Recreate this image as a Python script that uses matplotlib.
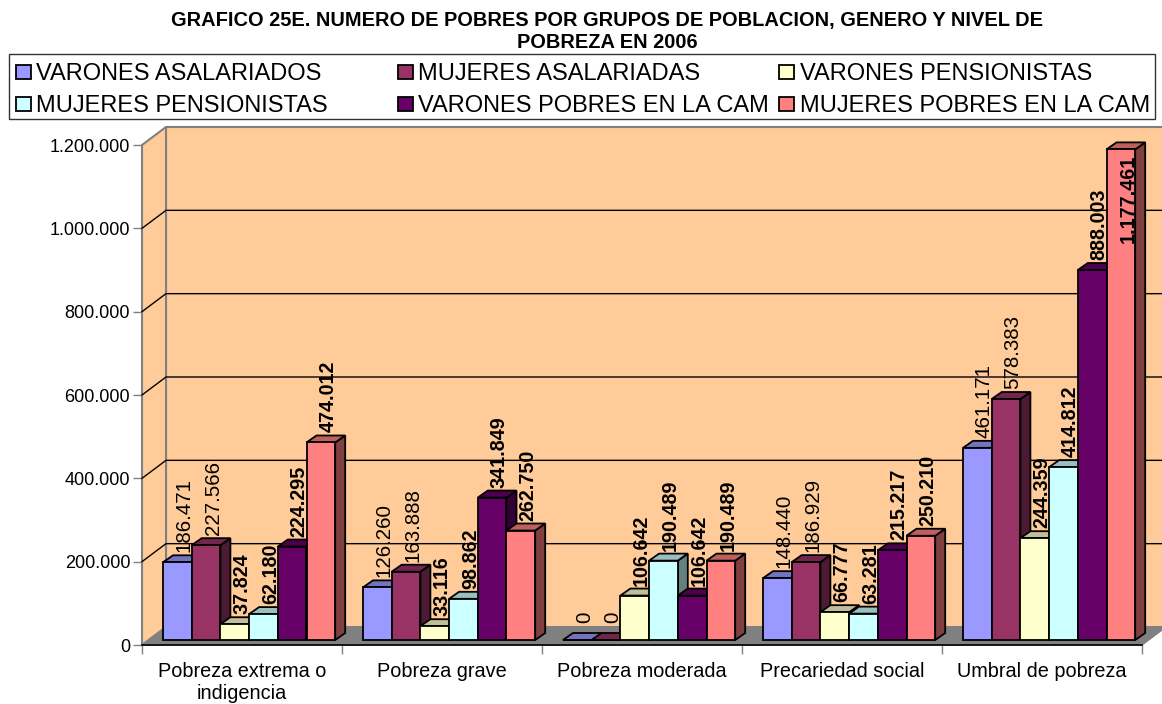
import numpy as np
import matplotlib
matplotlib.use("Agg")
import matplotlib.pyplot as plt
from matplotlib.patches import Polygon, Rectangle
from matplotlib.colors import to_rgb

categories = ["Pobreza extrema o\nindigencia", "Pobreza grave", "Pobreza moderada",
              "Precariedad social", "Umbral de pobreza"]
series_names = ["VARONES ASALARIADOS", "MUJERES ASALARIADAS", "VARONES PENSIONISTAS",
                "MUJERES PENSIONISTAS", "VARONES POBRES EN LA CAM", "MUJERES POBRES EN LA CAM"]
varones_asalariados = [186471, 126260, 0, 148440, 461171]
mujeres_asalariadas = [227566, 163888, 0, 186929, 578383]
varones_pensionistas = [37824, 33116, 106642, 66777, 244359]
mujeres_pensionistas = [62180, 98862, 190489, 63281, 414812]
varones_pobres = [224295, 341849, 106642, 215217, 888003]
mujeres_pobres = [474012, 262750, 190489, 250210, 1177461]
colors = ["#9999FF", "#993366", "#FFFFCC", "#CCFFFF", "#660066", "#FF8080"]
bold_labels = [False, False, True, True, True, True]
y_ticks = [0, 200000, 400000, 600000, 800000, 1000000, 1200000]
y_tick_labels = ["0", "200.000", "400.000", "600.000", "800.000", "1.000.000", "1.200.000"]
title = "GRAFICO 25E. NUMERO DE POBRES POR GRUPOS DE POBLACION, GENERO Y NIVEL DE\nPOBREZA EN 2006"

series = [varones_asalariados, mujeres_asalariadas, varones_pensionistas,
          mujeres_pensionistas, varones_pobres, mujeres_pobres]

plt.rcParams["font.family"] = ["Liberation Sans", "DejaVu Sans"]

W, H = 1162, 704
PX_X = 1 / 200  # one pixel in category units
PX_Y = 2400     # one pixel in value units


def fx(px):
    return px / W


def fy(py):
    return 1 - py / H


def shade(color, factor):
    return tuple(c * factor for c in to_rgb(color))


fig = plt.figure(figsize=(W / 100, H / 100), dpi=100, facecolor="white")
ax = fig.add_axes([fx(142), fy(645), 1000 / W, 500 / H])
ax.set_xlim(0, 5)
ax.set_ylim(0, 1200000)
for s in ax.spines.values():
    s.set_visible(False)
ax.patch.set_visible(False)

# walls and floor of the fake 3d box
wall_dx = 24 * PX_X
wall_dy = 18 * PX_Y
ymax = y_ticks[-1]
ax.add_patch(Polygon([(wall_dx, wall_dy), (5 + wall_dx, wall_dy), (5 + wall_dx, ymax + wall_dy), (wall_dx, ymax + wall_dy)],
                     facecolor="#FFCC99", edgecolor="#808080", lw=1.5, clip_on=False, zorder=1))
ax.add_patch(Polygon([(0, 0), (wall_dx, wall_dy), (wall_dx, ymax + wall_dy), (0, ymax)],
                     facecolor="#FFCC99", edgecolor="#808080", lw=1.5, clip_on=False, zorder=1))
for t in y_ticks[1:-1]:
    ax.plot([0, wall_dx, 5 + wall_dx], [t, t + wall_dy, t + wall_dy], color="black", lw=1, clip_on=False, zorder=2)
ax.add_patch(Polygon([(0, 0), (wall_dx, wall_dy), (5 + wall_dx, wall_dy), (5, 0)],
                     facecolor="#808080", edgecolor="#808080", lw=1, clip_on=False, zorder=3))
ax.plot([0, 5], [0, 0], color="black", lw=1.2, clip_on=False, zorder=3)

# bars
bar_w = 28.7 * PX_X
bar_dx = 10 * PX_X
bar_dy = 7 * PX_Y
base = 5 * PX_Y
z = 4
for i, values in enumerate(series):
    for g, v in enumerate(values):
        x0 = g + 21 * PX_X + i * bar_w
        top = base + v
        ax.add_patch(Polygon([(x0 + bar_w, base), (x0 + bar_w + bar_dx, base + bar_dy),
                              (x0 + bar_w + bar_dx, top + bar_dy), (x0 + bar_w, top)],
                             facecolor=shade(colors[i], 0.5), edgecolor="black", lw=1.3, clip_on=False, zorder=z))
        ax.add_patch(Polygon([(x0, top), (x0 + bar_dx, top + bar_dy),
                              (x0 + bar_w + bar_dx, top + bar_dy), (x0 + bar_w, top)],
                             facecolor=shade(colors[i], 0.75), edgecolor="black", lw=1.3, clip_on=False, zorder=z))
        ax.bar(x0, v, width=bar_w, bottom=base, align="edge", color=colors[i],
               edgecolor="black", lw=1.3, clip_on=False, zorder=z + 1)
        label = f"{v:,}".replace(",", ".")
        bold = bold_labels[i] and v > 0
        weight = "bold" if bold else "normal"
        size = 14.2 if bold else 14.8
        label_x = x0 + (bar_w + bar_dx) / 2 + 2 * PX_X
        if v > 1100000:
            ax.text(label_x, v, label, rotation=90, ha="center", va="top",
                    fontsize=size, fontweight=weight, clip_on=False, zorder=z + 2)
        else:
            gap = 10 if v == 0 else 3
            ax.text(label_x, top + bar_dy + gap * PX_Y, label, rotation=90, ha="center", va="bottom",
                    fontsize=size, fontweight=weight, clip_on=False, zorder=z + 2)
        z += 3

# axis ticks and labels
ax.set_yticks(y_ticks)
ax.set_yticklabels(y_tick_labels, fontsize=13)
ax.set_xticks(range(6))
ax.set_xticklabels([])
ax.set_xticks(np.arange(5) + 0.5, minor=True)
ax.set_xticklabels(categories, minor=True, fontsize=14.3, linespacing=1.2)
ax.tick_params(axis="y", length=6.5, width=1, color="#808080", pad=2)
ax.tick_params(axis="x", which="major", length=6.5, width=1, color="#808080")
ax.tick_params(axis="x", which="minor", length=0, pad=12)

# title
fig.text(fx(607), fy(11), title, ha="center", va="top", fontsize=14.4, fontweight="bold", linespacing=1.2)

# legend box
fig.add_artist(Rectangle((fx(9), fy(119)), 1146 / W, 65 / H, transform=fig.transFigure,
                         facecolor="white", edgecolor="#333333", lw=1))
for i, name in enumerate(series_names):
    col = i % 3
    row = i // 3
    left = 16 + col * 381.5
    y = 71.5 + row * 32.5
    fig.add_artist(Rectangle((fx(left), fy(y + 7)), 15 / W, 14 / H, transform=fig.transFigure,
                             facecolor=colors[i], edgecolor="black", lw=1.3))
    fig.text(fx(left + 20.5), fy(y), name, ha="left", va="center_baseline", fontsize=17)

fig.savefig("out.png", dpi=100)
